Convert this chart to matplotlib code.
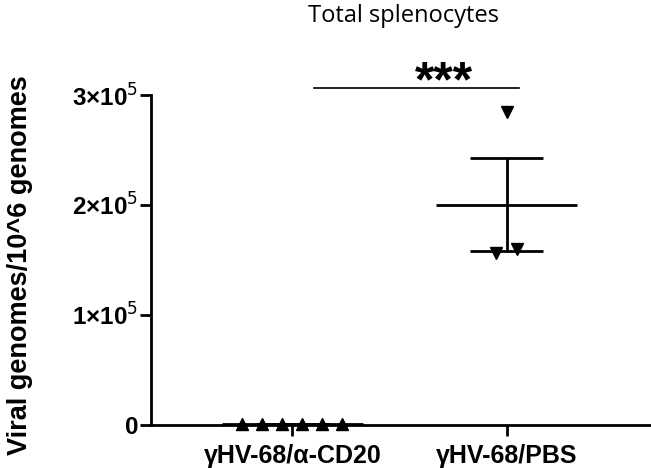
import numpy as np
import matplotlib.pyplot as plt

plt.rcParams['font.family'] = ['Liberation Sans', 'DejaVu Sans']

groups = ['γHV-68/α-CD20', 'γHV-68/PBS']
cd20_values = [500, 500, 500, 500, 500, 500]
pbs_values = [285000, 156000, 160000]
cd20_offsets = [-0.235, -0.14, -0.047, 0.047, 0.14, 0.23]
pbs_offsets = [0.0, -0.047, 0.047]
yticks = [0, 100000, 200000, 300000]
yticklabels = ['0', r'1×10$^{5}$', r'2×10$^{5}$', r'3×10$^{5}$']

fig = plt.figure(figsize=(6.51, 4.68), dpi=100)
ax = fig.add_axes([151 / 651, 43 / 468, 499 / 651, 330 / 468])

data = [(cd20_values, cd20_offsets, '^'), (pbs_values, pbs_offsets, 'v')]
for i, (vals, offs, mk) in enumerate(data):
    pos = i + 1
    xs = [pos + o for o in offs]
    ax.plot(xs, vals, linestyle='none', marker=mk, color='black', markersize=8, clip_on=False, zorder=3)
    m = np.mean(vals)
    s = np.std(vals, ddof=1) / np.sqrt(len(vals))
    ax.hlines(m, pos - 0.33, pos + 0.33, color='black', lw=2, clip_on=False)
    ax.hlines([m - s, m + s], pos - 0.17, pos + 0.17, color='black', lw=2, clip_on=False)
    ax.vlines(pos, m - s, m + s, color='black', lw=2, clip_on=False)

# significance bar
ax.plot([1.1, 2.06], [306000, 306000], color='black', lw=1.2, clip_on=False)
ax.text(1.71, 298500, '***', ha='center', va='baseline', fontsize=36, fontweight='bold')

ax.set_xlim(0.34, 2.67)
ax.set_ylim(0, 300000)
ax.set_xticks([1, 2])
ax.set_xticklabels(groups, fontsize=18, fontweight='bold')
ax.set_yticks(yticks)
ax.set_yticklabels(yticklabels, fontsize=17.5, fontweight='bold')
ax.tick_params(axis='both', width=2, length=8, direction='out')
ax.tick_params(axis='x', pad=6)
ax.tick_params(axis='y', pad=1)
for side in ['top', 'right']:
    ax.spines[side].set_visible(False)
for side in ['left', 'bottom']:
    ax.spines[side].set_linewidth(2)

ax.set_ylabel('Viral genomes/10^6 genomes', fontsize=19.5, fontweight='bold')
ax.yaxis.set_label_coords(-0.236, 0.485)
fig.text(403 / 651, 1 - 16 / 468, 'Total splenocytes', ha='center', va='center', fontsize=17,
         family=['Open Sans', 'DejaVu Sans'])

fig.savefig('out.png', dpi=100)
